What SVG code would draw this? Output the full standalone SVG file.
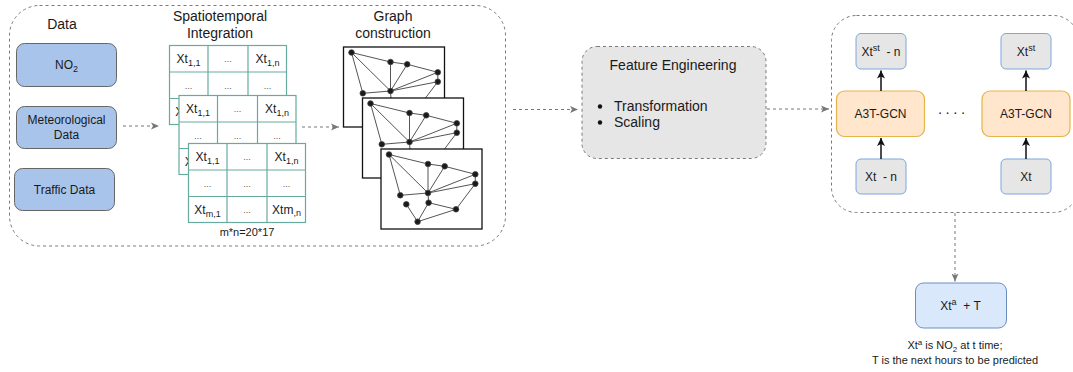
<svg xmlns="http://www.w3.org/2000/svg" xmlns:xlink="http://www.w3.org/1999/xlink" width="1073" height="372" viewBox="0 0 1073 372">
<style>
text{font-family:"Liberation Sans",Arial,sans-serif;fill:#1a1a1a;}
.t12{font-size:12px;}
.t14{font-size:14px;}
.sm{font-size:11px;}
.c{text-anchor:middle;}
.pre{white-space:pre;}
.cont{fill:none;stroke:#7a7a7a;stroke-width:1;stroke-dasharray:3 3;}
.dash{fill:none;stroke:#777;stroke-width:1;stroke-dasharray:3 3;}
.data{fill:#A9C4EB;stroke:#666;stroke-width:1;}
.tbl{fill:#fff;stroke:#67AB9F;stroke-width:1.2;}
.tl{stroke:#67AB9F;stroke-width:1.2;}
.dots{font-size:9px;fill:#555;}
.ge{stroke:#555;stroke-width:1;}
.gn{fill:#1a1a1a;stroke:#444;stroke-width:0.8;}
.grey{fill:#E6E6E6;stroke:#7EA6E0;stroke-width:1;}
.gcn{fill:#FFE6CC;stroke:#E3B54C;stroke-width:1.2;}
.res{fill:#DAE8FC;stroke:#6C8EBF;stroke-width:1;}
.blk{stroke:#111;stroke-width:1.5;fill:none;}
</style>
<defs>
<marker id="ga" markerWidth="10" markerHeight="10" refX="8" refY="4" orient="auto" markerUnits="userSpaceOnUse">
<path d="M0,0.5 L8,4 L0,7.5 L2,4 z" fill="#777"/>
</marker>
<marker id="ba" markerWidth="10" markerHeight="10" refX="8" refY="4" orient="auto" markerUnits="userSpaceOnUse">
<path d="M0,0 L8,4 L0,8 L2,4 z" fill="#111"/>
</marker>
<g id="graph">
<rect x="0" y="0" width="101" height="80" fill="#fff" stroke="#111" stroke-width="1.3"/>
<g class="ge">
<line x1="8" y1="5.5" x2="47" y2="15"/>
<line x1="47" y1="15" x2="63.7" y2="17.3"/>
<line x1="63.7" y1="17.3" x2="94.3" y2="25.3"/>
<line x1="8" y1="5.5" x2="47" y2="44"/>
<line x1="8" y1="5.5" x2="19.3" y2="46.3"/>
<line x1="47" y1="15" x2="47" y2="44"/>
<line x1="63.7" y1="17.3" x2="47" y2="44"/>
<line x1="94.3" y1="25.3" x2="47" y2="44"/>
<line x1="94.3" y1="34.7" x2="47" y2="44"/>
<line x1="19.3" y1="46.3" x2="47" y2="44"/>
<line x1="94.3" y1="25.3" x2="94.3" y2="34.7"/>
<line x1="94.3" y1="34.7" x2="75" y2="60.3"/>
<line x1="47" y1="44" x2="47.6" y2="53.7"/>
<line x1="47.6" y1="53.7" x2="75" y2="60.3"/>
<line x1="47.6" y1="53.7" x2="36.6" y2="72.7"/>
<line x1="25.3" y1="55.3" x2="36.6" y2="72.7"/>
<line x1="36.6" y1="72.7" x2="75" y2="60.3"/>
</g>
<g class="gn">
<circle cx="8" cy="5.5" r="2.8"/>
<circle cx="47" cy="15" r="2.8"/>
<circle cx="63.7" cy="17.3" r="2.8"/>
<circle cx="94.3" cy="25.3" r="2.8"/>
<circle cx="94.3" cy="34.7" r="2.8"/>
<circle cx="47" cy="44" r="2.8"/>
<circle cx="19.3" cy="46.3" r="2.8"/>
<circle cx="25.3" cy="55.3" r="2.8"/>
<circle cx="47.6" cy="53.7" r="2.8"/>
<circle cx="75" cy="60.3" r="2.8"/>
<circle cx="36.6" cy="72.7" r="2.8"/>
</g>
</g>
<g id="table">
<rect class="tbl" x="0" y="0" width="117" height="79"/>
<line class="tl" x1="38.5" y1="0" x2="38.5" y2="79"/>
<line class="tl" x1="78.5" y1="0" x2="78.5" y2="79"/>
<line class="tl" x1="0" y1="26.5" x2="117" y2="26.5"/>
<line class="tl" x1="0" y1="53" x2="117" y2="53"/>
<text class="t12 c" x="19" y="17.5">Xt<tspan font-size="9" dy="3">1,1</tspan></text>
<text class="dots c" x="58.5" y="16">...</text>
<text class="t12 c" x="98" y="17.5">Xt<tspan font-size="9" dy="3">1,n</tspan></text>
<text class="dots c" x="19" y="43">...</text>
<text class="dots c" x="58.5" y="43">...</text>
<text class="dots c" x="98" y="43">...</text>
<text class="t12 c" x="19" y="70.5">Xt<tspan font-size="9" dy="3">m,1</tspan></text>
<text class="dots c" x="58.5" y="69">...</text>
<text class="t12 c" x="98" y="70.5">Xtm<tspan font-size="9" dy="2">,n</tspan></text>
</g>
</defs>

<g id="containers">
<rect class="cont" x="9.5" y="5.5" width="496" height="240.5" rx="30"/>
<rect class="cont" x="831.5" y="15.5" width="247" height="197" rx="25"/>
</g>

<g id="data-title"><text class="t14 c" x="62" y="29">Data</text></g>
<g id="no2">
<rect class="data" x="16.5" y="43.5" width="100" height="43" rx="8"/>
<text class="t12 c" x="66.5" y="69">NO<tspan font-size="9" dy="3">2</tspan></text>
</g>
<g id="meteo">
<rect class="data" x="16.5" y="106.5" width="100" height="42" rx="8"/>
<text class="t12 c" x="66.5" y="124">Meteorological</text>
<text class="t12 c" x="66.5" y="139">Data</text>
</g>
<g id="traffic">
<rect class="data" x="14.5" y="168.5" width="100" height="42" rx="8"/>
<text class="t12 c" x="64.5" y="193.5">Traffic Data</text>
</g>

<g id="spatiotemporal">
<text class="t14 c" x="220" y="21">Spatiotemporal</text>
<text class="t14 c" x="220" y="38">Integration</text>
<use href="#table" x="169.5" y="45.5"/>
<use href="#table" x="179" y="95.5"/>
<use href="#table" x="188.5" y="143.5"/>
<text class="sm c" x="247" y="236">m*n=20*17</text>
</g>

<g id="graph-construction">
<text class="t14 c" x="393" y="21">Graph</text>
<text class="t14 c" x="393" y="38">construction</text>
<use href="#graph" x="343.5" y="47"/>
<use href="#graph" x="362.5" y="98"/>
<use href="#graph" x="381" y="149"/>
</g>

<g id="feature-engineering">
<rect x="582" y="46.5" width="184" height="112" rx="15" fill="#E6E6E6" stroke="#7a7a7a" stroke-width="1" stroke-dasharray="3 3"/>
<text class="t14 c" x="673" y="70">Feature Engineering</text>
<circle cx="600" cy="106.5" r="2.2" fill="#111"/>
<circle cx="600" cy="122.5" r="2.2" fill="#111"/>
<text class="t14" x="614" y="111">Transformation</text>
<text class="t14" x="614" y="127">Scaling</text>
</g>

<g id="xtst-n">
<rect class="grey" x="856" y="33.5" width="50" height="35.5" rx="5"/>
<text class="t12 c pre" x="881" y="56">Xt<tspan font-size="9" dy="-5">st</tspan><tspan dy="5">  - n</tspan></text>
</g>
<g id="xtst">
<rect class="grey" x="1001" y="33.5" width="50" height="35.5" rx="5"/>
<text class="t12 c" x="1026" y="56">Xt<tspan font-size="9" dy="-5">st</tspan></text>
</g>
<g id="gcn-left">
<rect class="gcn" x="836.5" y="91" width="88" height="45.5" rx="8"/>
<text class="t12 c" x="880.5" y="118">A3T-GCN</text>
</g>
<g id="gcn-right">
<rect class="gcn" x="982" y="91" width="88" height="45.5" rx="8"/>
<text class="t12 c" x="1026" y="118">A3T-GCN</text>
</g>
<g id="ellipsis"><text class="t14 c" x="953" y="117" letter-spacing="3">····</text></g>
<g id="xt-n">
<rect class="grey" x="856" y="159" width="50" height="35" rx="5"/>
<text class="t12 c pre" x="881" y="181">Xt  - n</text>
</g>
<g id="xt">
<rect class="grey" x="1001" y="159" width="50" height="35" rx="5"/>
<text class="t12 c" x="1026" y="181">Xt</text>
</g>

<g id="result">
<rect class="res" x="915.5" y="283" width="91" height="45" rx="8"/>
<text class="t12 c pre" x="960.5" y="310">Xt<tspan font-size="9" dy="-5">a</tspan><tspan dy="5">  + T</tspan></text>
<text class="sm c" x="955" y="349">Xt<tspan font-size="8" dy="-4">a</tspan><tspan dy="4"> is NO</tspan><tspan font-size="8" dy="3">2</tspan><tspan dy="-3"> at t time;</tspan></text>
<text class="sm c" x="955" y="364">T is the next hours to be predicted</text>
</g>

<g id="connectors">
<line class="dash" x1="123" y1="126" x2="159" y2="126" marker-end="url(#ga)"/>
<line class="dash" x1="302" y1="127" x2="339" y2="127" marker-end="url(#ga)"/>
<line class="dash" x1="513" y1="109.5" x2="578" y2="109.5" marker-end="url(#ga)"/>
<line class="dash" x1="767" y1="109" x2="829" y2="109" marker-end="url(#ga)"/>
<line class="dash" x1="955" y1="213" x2="955" y2="281.5" marker-end="url(#ga)"/>
<line class="blk" x1="881" y1="159" x2="881" y2="138" stroke="#333" stroke-width="1.2" marker-end="url(#ba)"/>
<line class="blk" x1="881" y1="91" x2="881" y2="70.5" stroke="#333" stroke-width="1.2" marker-end="url(#ba)"/>
<line class="blk" x1="1026" y1="159" x2="1026" y2="138" marker-end="url(#ba)"/>
<line class="blk" x1="1026" y1="91" x2="1026" y2="70.5" marker-end="url(#ba)"/>
</g>
</svg>
